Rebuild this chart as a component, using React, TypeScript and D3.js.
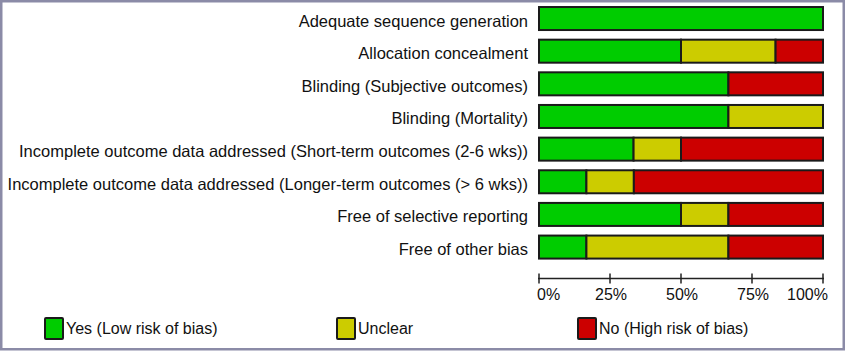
import * as d3 from 'd3';

// risk-of-bias domains, top to bottom
const domains = [
  'Adequate sequence generation',
  'Allocation concealment',
  'Blinding (Subjective outcomes)',
  'Blinding (Mortality)',
  'Incomplete outcome data addressed (Short-term outcomes (2-6 wks))',
  'Incomplete outcome data addressed (Longer-term outcomes (> 6 wks))',
  'Free of selective reporting',
  'Free of other bias',
];

// percent of studies per judgement
const yesLow = [100, 50, 66.7, 66.7, 33.3, 16.7, 50, 16.7];
const unclear = [0, 33.3, 0, 33.3, 16.7, 16.7, 16.7, 50];
const noHigh = [0, 16.7, 33.3, 0, 50, 66.6, 33.3, 33.3];

const seriesKeys = ['yes', 'unclear', 'no'];
const seriesNames = ['Yes (Low risk of bias)', 'Unclear', 'No (High risk of bias)'];
const seriesColors = ['#00cc00', '#cccc00', '#cc0000'];

const tickValues = [0, 25, 50, 75, 100];

const W = 846;
const H = 351;
const FONT = 'Arial, "Liberation Sans", sans-serif';

export default function App() {
  const rows = domains.map((d, i) => ({ domain: d, yes: yesLow[i], unclear: unclear[i], no: noHigh[i] }));
  const stacked = d3.stack<any>().keys(seriesKeys)(rows);

  const x = d3.scaleLinear().domain([0, 100]).range([539, 823]);
  const y = d3.scaleBand<string>()
    .domain(domains)
    .range([2.2, 263.4])
    .paddingInner(0.234)
    .paddingOuter(0.117);

  const axisY = 278.5;
  const legendX = [44, 336, 577];

  return (
    <svg width={W} height={H} style={{ position: 'absolute', left: 0, top: 0, background: '#fff' }}>
      {/* frame */}
      <rect x={1.25} y={1.25} width={842.5} height={348} fill="none" stroke="#8b8ba7" strokeWidth={2.5} />

      {/* labels */}
      {domains.map(d => (
        <text key={d} x={528} y={(y(d) ?? 0) + y.bandwidth() / 2 + 8}
          textAnchor="end" fontFamily={FONT} fontSize={16.5} fill="#111">
          {d}
        </text>
      ))}

      {/* bars */}
      {stacked.map((s, si) => (
        <g key={s.key} fill={seriesColors[si]}>
          {s.map((seg, i) => seg[1] - seg[0] > 0 ? (
            <rect key={i} x={x(seg[0])} y={(y(domains[i]) ?? 0) + 1}
              width={x(seg[1]) - x(seg[0])} height={y.bandwidth() - 2}
              stroke="#1a1a1a" strokeWidth={2} />
          ) : null)}
        </g>
      ))}

      {/* x axis */}
      <g stroke="#222" strokeWidth={1.5}>
        <line x1={x(0) - 1} x2={x(100) + 1} y1={axisY} y2={axisY} />
        {tickValues.map(t => (
          <line key={t} x1={x(t)} x2={x(t)} y1={axisY - 5} y2={axisY + 5} />
        ))}
      </g>
      {tickValues.map((t, i) => (
        <text key={t}
          x={i === 0 ? x(t) - 2 : i === tickValues.length - 1 ? x(t) + 5 : x(t) + 1}
          y={300} fontFamily={FONT} fontSize={16} fill="#111"
          textAnchor={i === 0 ? 'start' : i === tickValues.length - 1 ? 'end' : 'middle'}>
          {t}%
        </text>
      ))}

      {/* legend */}
      {seriesNames.map((n, i) => (
        <g key={n} transform={`translate(${legendX[i]},317)`}>
          <rect x={1} y={1} width={18} height={21} fill={seriesColors[i]} stroke="#1a1a1a" strokeWidth={2} rx={1} />
          <text x={22} y={17} fontFamily={FONT} fontSize={16} fill="#111">{n}</text>
        </g>
      ))}
    </svg>
  );
}
